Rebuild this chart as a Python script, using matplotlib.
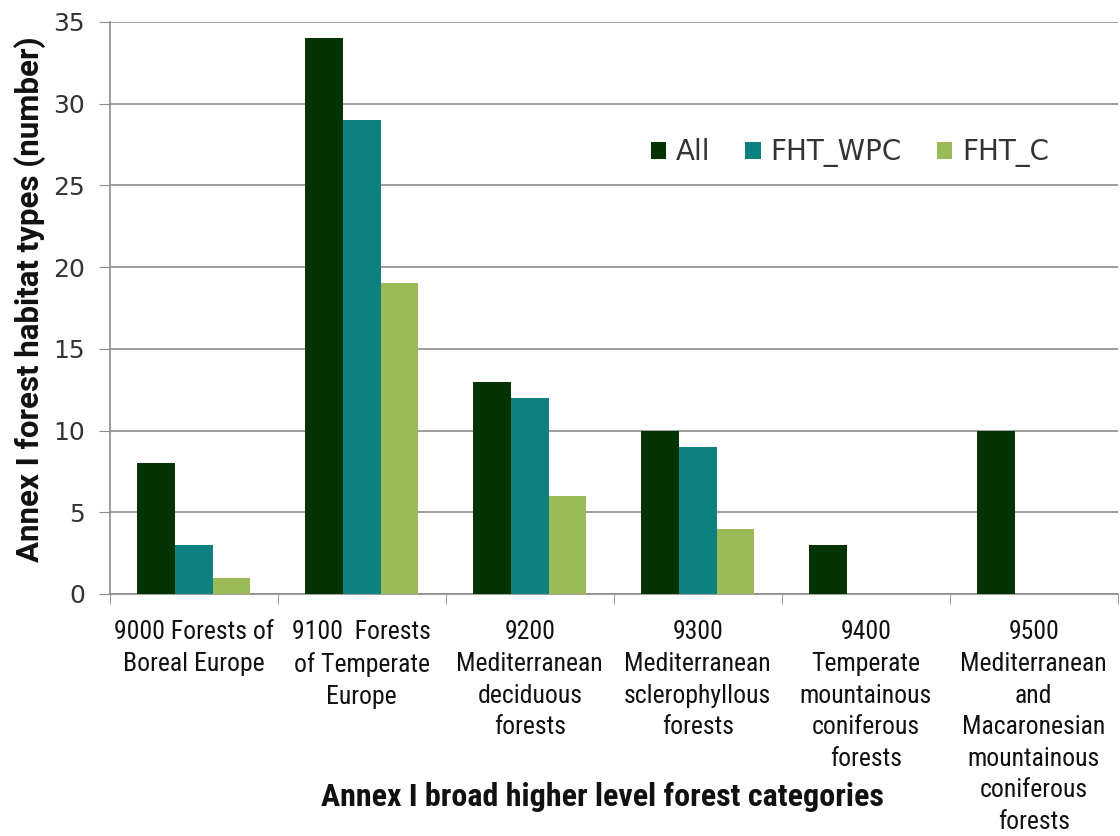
import numpy as np
import matplotlib
matplotlib.use("Agg")
import matplotlib.pyplot as plt
from matplotlib import font_manager

categories = [
    "9000 Forests of\nBoreal Europe",
    "9100  Forests\nof Temperate\nEurope",
    "9200\nMediterranean\ndeciduous\nforests",
    "9300\nMediterranean\nsclerophyllous\nforests",
    "9400\nTemperate\nmountainous\nconiferous\nforests",
    "9500\nMediterranean\nand\nMacaronesian\nmountainous\nconiferous\nforests",
]
series_names = ["All", "FHT_WPC", "FHT_C"]
all_vals = [8, 34, 13, 10, 3, 10]
wpc_vals = [3, 29, 12, 9, 0, 0]
c_vals = [1, 19, 6, 4, 0, 0]
yticks = [0, 5, 10, 15, 20, 25, 30, 35]

colors = ["#033303", "#0e8080", "#9bbb59"]

# pick a narrow font if one is around (Calibri-like look of the original)
names = {f.name for f in font_manager.fontManager.ttflist}
narrow = None
for cand in ["Liberation Sans Narrow", "Roboto Condensed", "Open Sans Condensed",
             "DejaVu Sans Condensed", "Noto Sans Condensed"]:
    if cand in names:
        narrow = cand
        break
if narrow is None:
    narrow_kw = dict(family=["DejaVu Sans"], fontstretch="condensed")
else:
    narrow_kw = dict(family=[narrow, "DejaVu Sans"])

fig = plt.figure(figsize=(11.2, 8.36), dpi=100)
ax = fig.add_axes([0.098, 0.2895, 0.9, 0.6842])

x = np.arange(len(categories))
w = 0.225
for i, (vals, name) in enumerate(zip([all_vals, wpc_vals, c_vals], series_names)):
    ax.bar(x + (i - 1) * w, vals, w, color=colors[i], label=name, zorder=3)

ax.set_xlim(-0.5, len(categories) - 0.5)
ax.set_ylim(0, 35)
ax.set_yticks(yticks)
ax.set_yticklabels([str(t) for t in yticks], fontsize=18, color="#333333")
ax.yaxis.grid(True, color="#8c8c8c", linewidth=1.2, zorder=0)
ax.set_axisbelow(True)

ax.set_xticks(x)
ax.set_xticklabels(categories, fontsize=18.5, color="#111111", linespacing=1.4,
                   va="top", **narrow_kw)
ax.set_xticks(np.arange(-0.5, len(categories)), minor=True)
ax.tick_params(axis="x", which="major", length=0, pad=19)
ax.tick_params(axis="x", which="minor", length=7, color="#8c8c8c")
ax.tick_params(axis="y", length=8, color="#8c8c8c", pad=10)

for s in ["top", "right"]:
    ax.spines[s].set_visible(False)
ax.spines["left"].set_color("#8c8c8c")
ax.spines["bottom"].set_color("#8c8c8c")
ax.spines["left"].set_linewidth(1.2)
ax.spines["bottom"].set_linewidth(1.2)

ax.set_ylabel("Annex I forest habitat types (number)", fontsize=22.5, fontweight="bold",
              color="#111111", family=["Roboto", "DejaVu Sans"])
ax.yaxis.set_label_coords(-0.063, 0.515)
fig.text(0.538, 0.047, "Annex I broad higher level forest categories", ha="center",
         va="center", fontsize=23, fontweight="bold", color="#111111", **narrow_kw)

ax.legend(loc="center left", bbox_to_anchor=(0.512, 0.771), ncol=3, frameon=False,
          fontsize=20, handlelength=0.55, handleheight=0.55, handletextpad=0.36,
          columnspacing=1.25, labelcolor="#333333")

fig.savefig("out.png", dpi=100)
